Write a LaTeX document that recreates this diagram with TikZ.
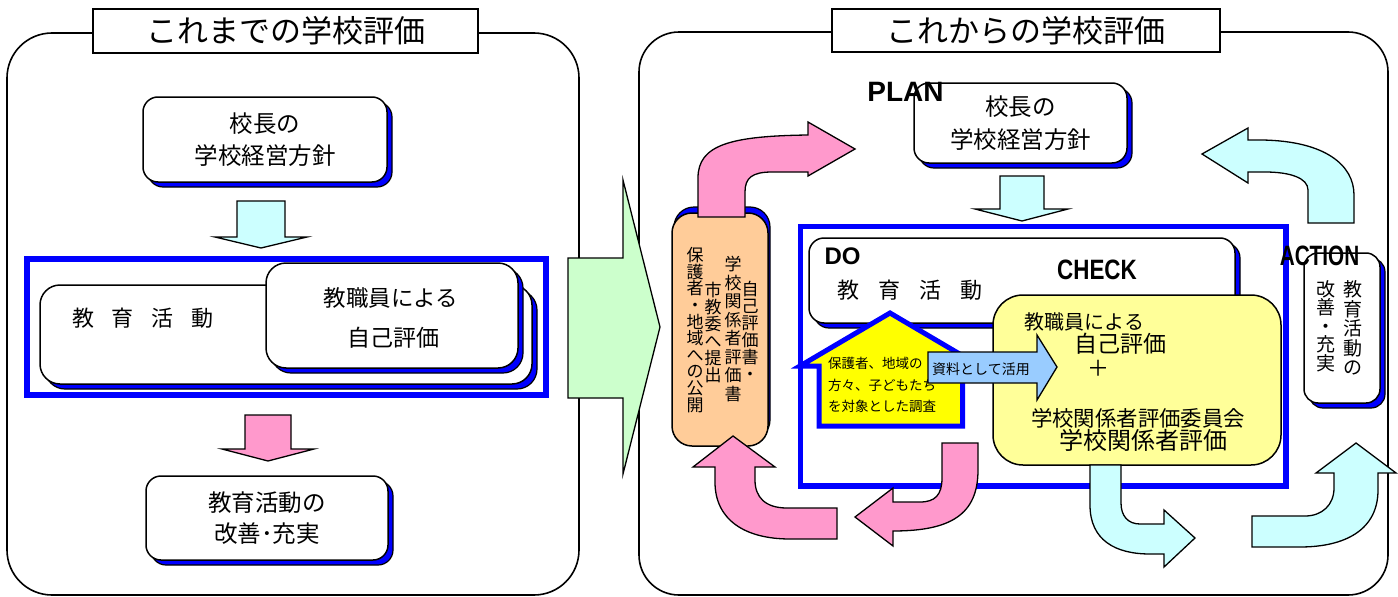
\documentclass[tikz,border=0pt]{standalone}
\usepackage{fontspec}
\usetikzlibrary{shadows}
\newfontfamily\jp{Noto Sans CJK JP}
\newfontfamily\lab{Liberation Sans}
\newcommand\myfs[2]{\fontsize{#1}{#2}\selectfont}
\definecolor{pinkA}{HTML}{FF99CC}
\definecolor{cyanA}{HTML}{CCFFFF}
\definecolor{greenA}{HTML}{CCFFCC}
\definecolor{peachA}{HTML}{FFCC99}
\definecolor{yellowA}{HTML}{FFFF00}
\definecolor{lyellowA}{HTML}{FFFF99}
\definecolor{lblueA}{HTML}{99CCFF}
\tikzset{
  panel/.style={draw=black, line width=1.6pt, fill=white},
  titlebox/.style={draw=black, line width=1.6pt, fill=white, inner sep=0pt, font={\jp\myfs{31}{31}}},
  wbox/.style={draw=black, line width=1.5pt, fill=white, rounded corners=15pt, inner sep=0pt, align=center,
    copy shadow={shadow xshift=5pt, shadow yshift=-5pt, fill=blue, draw=black, line width=1.2pt}},
  barrow/.style={draw=black, line width=1.3pt, line join=miter},
  bframe/.style={draw=blue, line width=6pt},
  lbl/.style={font={\lab\bfseries\myfs{28}{28}}, inner sep=0pt},
  jt/.style={font={\jp\myfs{#1}{#1}}, inner sep=0pt, align=center},
}
\begin{document}
\begin{tikzpicture}[x=1pt,y=-1pt]
\useasboundingbox (0,0) rectangle (1398,597);
\fill[white] (0,0) rectangle (1398,597);

% ---------------- left panel ----------------
\draw[panel, rounded corners=45pt] (7,33) rectangle (579,595);
\node[titlebox, minimum width=385pt, minimum height=44pt] (t1) at (285.5,31) {これまでの学校評価};

\node[wbox, minimum width=244pt, minimum height=85pt, font={\jp\myfs{23.5}{32}}] (l1) at (265,139.5) {校長の\\学校経営方針};

\draw[barrow, fill=cyanA] (237,201) -- (285,201) -- (285,237) -- (307,237) -- (261,248) -- (215,237) -- (237,237) -- cycle;

\draw[bframe] (27,259) rectangle (546,395);

\node[wbox, rounded corners=20pt, minimum width=492pt, minimum height=99pt] (l2) at (286,334.5) {};
\node[wbox, rounded corners=20pt, minimum width=252pt, minimum height=105pt] (l3) at (392,315.5) {};
\node[jt=22] (l2t) at (143,318) {教\hspace{18pt}育\hspace{18pt}活\hspace{18pt}動};
\node[jt=22.5] (l3a) at (391,298) {教職員による};
\node[jt=23] (l3b) at (393,338) {自己評価};

\draw[barrow, fill=pinkA] (245,415) -- (291,415) -- (291,449) -- (314,449) -- (268,461) -- (222,449) -- (245,449) -- cycle;

\node[wbox, minimum width=242pt, minimum height=84pt, font={\jp\myfs{23.5}{31}}] (l4) at (267,518) {教育活動の\\改善･充実};

% ---------------- right panel ----------------
\draw[panel, rounded corners=40pt] (639,32) rectangle (1388,595);
\node[titlebox, minimum width=388pt, minimum height=43pt] (t2) at (1026,30.5) {これからの学校評価};

% big green arrow
\draw[barrow, fill=greenA] (568,258) -- (623,258) -- (623,180) -- (660,327) -- (623,474) -- (623,398) -- (568,398) -- cycle;

\node[wbox, minimum width=213pt, minimum height=80pt, font={\jp\myfs{23.5}{33}}] (r1) at (1020.5,123) {校長の\\学校経営方針};
\node[lbl] (plan) at (905.5,92) {PLAN};

\draw[barrow, fill=cyanA] (1000,176) -- (1044,176) -- (1044,209) -- (1068,209) -- (1022,221) -- (975,209) -- (1000,209) -- cycle;

\draw[draw=blue, line width=5.5pt] (800.5,226.5) rectangle (1286,486);

\node[wbox, minimum width=426pt, minimum height=85pt] (r2) at (1022,280.5) {};
\node[lbl, font={\lab\bfseries\myfs{24}{24}}] (do) at (842.5,256.5) {DO};
\node[jt=22] (r2t) at (910,290) {教\hspace{18.7pt}育\hspace{18.7pt}活\hspace{18.7pt}動};
\node[lbl] (check) at (1097,270) {\scalebox{0.8}[1]{CHECK}};

% survey (yellow up arrow)
\draw[draw=blue, line width=5pt, fill=yellowA, line join=miter] (890,313) -- (980,366) -- (962.5,366) -- (962.5,426) -- (819,426) -- (819,366) -- (800,366) -- cycle;
\node[font={\jp\myfs{13.5}{21.5}}, inner sep=0pt, align=left, anchor=north west] (sv) at (828,357) {保護者、地域の\\方々、子どもたち\\を対象とした調査};

% check box
\node[draw=black, line width=1.5pt, fill=lyellowA, rounded corners=30pt, minimum width=288pt, minimum height=170pt] (chk) at (1137,380) {};
\node[jt=20] (c1) at (1084.5,322) {教職員による};
\node[jt=23] (c2) at (1120,344) {自己評価};
\node[jt=22] (c3) at (1098,368) {＋};
\node[jt=21.4] (c4) at (1138,418) {学校関係者評価委員会};
\node[jt=24] (c5) at (1143,440) {学校関係者評価};

% light blue arrow
\draw[barrow, fill=lblueA] (928,352) -- (1037,352) -- (1037,335) -- (1057,367) -- (1037,400) -- (1037,383) -- (928,383) -- cycle;
\node[jt=14] (use) at (981,369) {資料として活用};

% orange box
\node[draw=black, line width=1.5pt, fill=peachA, rounded corners=20pt, minimum width=96pt, minimum height=233pt,
  copy shadow={shadow xshift=2pt, shadow yshift=6pt, fill=blue, draw=black, line width=1.2pt}] (org) at (720,329.5) {};
\node[font={\jp\myfs{17}{17}}, inner sep=0pt, align=center] (o1) at (750,331) {自\\己\\評\\価\\書\\・};
\node[font={\jp\myfs{17}{18.5}}, inner sep=0pt, align=center] (o2) at (733,329) {学\\校\\関\\係\\者\\評\\価\\書};
\node[font={\jp\myfs{17}{17}}, inner sep=0pt, align=center] (o3) at (713,332) {市\\教\\委\\へ\\提\\出};
\node[font={\jp\myfs{17}{16.6}}, inner sep=0pt, align=center] (o4) at (695,330) {保\\護\\者\\・\\地\\域\\へ\\の\\公\\開};

% pink curved arrows
\draw[barrow, fill=pinkA] (698,217) -- (698,178) .. controls (698,145) and (730,136) .. (808,135) -- (808,122) -- (855,149) -- (808,176) -- (808,172) -- (772,172) .. controls (752,172) and (745,178) .. (745,192) -- (745,217) -- cycle;
\draw[barrow, fill=pinkA] (942,443) -- (978,443) -- (978,470) .. controls (978,515) and (950,531) .. (893,531) -- (893,546) -- (855,517) -- (893,488) -- (893,502) -- (920,502) .. controls (935,502) and (942,495) .. (942,478) -- cycle;
\draw[barrow, fill=pinkA] (837,508) -- (787,508) .. controls (765,508) and (755,497) .. (755,480) -- (755,467) -- (775,467) -- (733,436) -- (693,467) -- (715,467) -- (715,482) .. controls (715,520) and (745,539) .. (790,539) -- (837,539) -- cycle;

% cyan curved arrows
\draw[barrow, fill=cyanA] (1308,223) -- (1308,190) .. controls (1308,178) and (1290,172) .. (1265,172) -- (1248,172) -- (1248,183) -- (1202,154) -- (1248,128) -- (1248,140) -- (1262,140) .. controls (1325,141) and (1354,165) .. (1354,195) -- (1354,223) -- cycle;
\draw[barrow, fill=cyanA] (1090,465) -- (1090,505) .. controls (1090,540) and (1115,554) .. (1150,554) -- (1164,554) -- (1164,567) -- (1195,538) -- (1164,510) -- (1164,524) -- (1140,524) .. controls (1128,524) and (1121,516) .. (1121,503) -- (1121,465) -- cycle;
\draw[barrow, fill=cyanA] (1252,516) -- (1305,516) .. controls (1322,516) and (1334,505) .. (1334,488) -- (1334,473) -- (1316,473) -- (1356,443) -- (1396,473) -- (1378,473) -- (1378,490) .. controls (1378,530) and (1345,547) .. (1300,547) -- (1252,547) -- cycle;

% action box
\node[wbox, rounded corners=14pt, minimum width=76pt, minimum height=150pt] (act) at (1342,328) {};
\node[lbl] (action) at (1319.5,256) {\scalebox{0.74}[1]{ACTION}};
\node[font={\jp\myfs{19}{19.5}}, inner sep=0pt, align=center] (a1) at (1353,328) {教\\育\\活\\動\\の};
\node[font={\jp\myfs{19}{18.5}}, inner sep=0pt, align=center] (a2) at (1326,326) {改\\善\\・\\充\\実};
\end{tikzpicture}
\end{document}
